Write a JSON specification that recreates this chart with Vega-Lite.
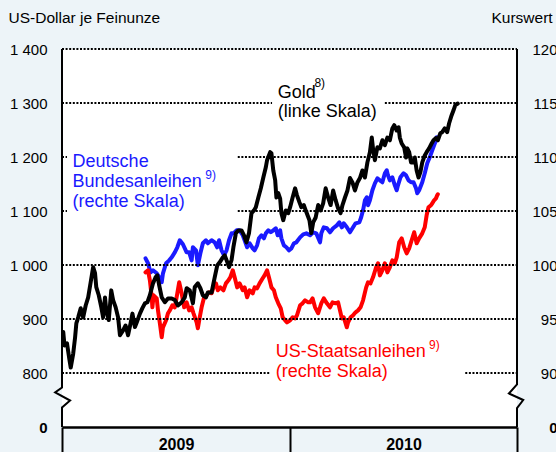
{
  "$schema": "https://vega.github.io/schema/vega-lite/v6.json",
  "width": 455,
  "height": 378,
  "autosize": {"type": "none"},
  "padding": {"left": 62, "top": 49, "right": 39, "bottom": 25},
  "background": "#edf4f8",
  "view": {"fill": "white", "stroke": null},
  "config": {"font": "Liberation Sans"},
  "datasets": {
    "gold": [
      {"date":"2009-01-03","usd":876},{"date":"2009-01-05","usd":851},{"date":"2009-01-09","usd":855},{"date":"2009-01-13","usd":824},
      {"date":"2009-01-15","usd":810},{"date":"2009-01-19","usd":836},{"date":"2009-01-22","usd":866},{"date":"2009-01-24","usd":892},
      {"date":"2009-01-27","usd":903},{"date":"2009-01-31","usd":920},{"date":"2009-02-04","usd":903},{"date":"2009-02-08","usd":925},
      {"date":"2009-02-12","usd":940},{"date":"2009-02-16","usd":968},{"date":"2009-02-20","usd":996},{"date":"2009-02-23","usd":985},
      {"date":"2009-02-25","usd":959},{"date":"2009-03-01","usd":944},{"date":"2009-03-05","usd":922},{"date":"2009-03-08","usd":903},
      {"date":"2009-03-11","usd":940},{"date":"2009-03-13","usd":916},{"date":"2009-03-17","usd":898},{"date":"2009-03-21","usd":953},
      {"date":"2009-03-24","usd":935},{"date":"2009-03-28","usd":922},{"date":"2009-04-01","usd":903},{"date":"2009-04-04","usd":870},
      {"date":"2009-04-09","usd":879},{"date":"2009-04-13","usd":888},{"date":"2009-04-17","usd":870},{"date":"2009-04-21","usd":892},
      {"date":"2009-04-24","usd":910},{"date":"2009-04-28","usd":885},{"date":"2009-05-01","usd":894},{"date":"2009-05-06","usd":910},
      {"date":"2009-05-10","usd":920},{"date":"2009-05-14","usd":929},{"date":"2009-05-18","usd":931},{"date":"2009-05-22","usd":944},
      {"date":"2009-05-27","usd":966},{"date":"2009-05-31","usd":977},{"date":"2009-06-03","usd":981},{"date":"2009-06-06","usd":962},
      {"date":"2009-06-10","usd":940},{"date":"2009-06-15","usd":931},{"date":"2009-06-20","usd":938},{"date":"2009-06-26","usd":938},
      {"date":"2009-07-01","usd":935},{"date":"2009-07-06","usd":925},{"date":"2009-07-12","usd":931},{"date":"2009-07-17","usd":940},
      {"date":"2009-07-20","usd":957},{"date":"2009-07-25","usd":953},{"date":"2009-07-30","usd":929},{"date":"2009-08-02","usd":959},
      {"date":"2009-08-07","usd":966},{"date":"2009-08-11","usd":957},{"date":"2009-08-15","usd":944},{"date":"2009-08-20","usd":940},
      {"date":"2009-08-23","usd":949},{"date":"2009-08-29","usd":949},{"date":"2009-09-01","usd":966},{"date":"2009-09-03","usd":977},
      {"date":"2009-09-07","usd":999},{"date":"2009-09-11","usd":1005},{"date":"2009-09-16","usd":1014},{"date":"2009-09-19","usd":1018},
      {"date":"2009-09-22","usd":1009},{"date":"2009-09-26","usd":996},{"date":"2009-09-30","usd":1009},{"date":"2009-10-03","usd":1033},
      {"date":"2009-10-07","usd":1059},{"date":"2009-10-11","usd":1064},{"date":"2009-10-16","usd":1064},{"date":"2009-10-20","usd":1055},
      {"date":"2009-10-24","usd":1042},{"date":"2009-10-28","usd":1059},{"date":"2009-11-01","usd":1096},{"date":"2009-11-05","usd":1101},
      {"date":"2009-11-08","usd":1107},{"date":"2009-11-12","usd":1125},{"date":"2009-11-16","usd":1142},{"date":"2009-11-20","usd":1162},
      {"date":"2009-11-24","usd":1181},{"date":"2009-11-26","usd":1194},{"date":"2009-12-01","usd":1209},{"date":"2009-12-03","usd":1207},
      {"date":"2009-12-06","usd":1175},{"date":"2009-12-09","usd":1157},{"date":"2009-12-11","usd":1125},{"date":"2009-12-14","usd":1133},
      {"date":"2009-12-17","usd":1123},{"date":"2009-12-19","usd":1096},{"date":"2009-12-22","usd":1083},{"date":"2009-12-26","usd":1101},
      {"date":"2009-12-30","usd":1096},{"date":"2010-01-02","usd":1107},{"date":"2010-01-06","usd":1125},{"date":"2010-01-10","usd":1142},
      {"date":"2010-01-13","usd":1129},{"date":"2010-01-17","usd":1116},{"date":"2010-01-20","usd":1107},{"date":"2010-01-24","usd":1111},
      {"date":"2010-01-28","usd":1098},{"date":"2010-02-02","usd":1083},{"date":"2010-02-05","usd":1059},{"date":"2010-02-08","usd":1079},
      {"date":"2010-02-12","usd":1088},{"date":"2010-02-16","usd":1111},{"date":"2010-02-20","usd":1101},{"date":"2010-02-24","usd":1114},
      {"date":"2010-02-28","usd":1142},{"date":"2010-03-04","usd":1125},{"date":"2010-03-08","usd":1111},{"date":"2010-03-12","usd":1138},
      {"date":"2010-03-16","usd":1120},{"date":"2010-03-20","usd":1105},{"date":"2010-03-24","usd":1096},{"date":"2010-03-27","usd":1111},
      {"date":"2010-03-31","usd":1125},{"date":"2010-04-04","usd":1138},{"date":"2010-04-08","usd":1161},{"date":"2010-04-12","usd":1153},
      {"date":"2010-04-16","usd":1138},{"date":"2010-04-20","usd":1153},{"date":"2010-04-24","usd":1161},{"date":"2010-04-28","usd":1175},
      {"date":"2010-05-02","usd":1162},{"date":"2010-05-06","usd":1190},{"date":"2010-05-10","usd":1209},{"date":"2010-05-13","usd":1236},
      {"date":"2010-05-15","usd":1216},{"date":"2010-05-18","usd":1194},{"date":"2010-05-22","usd":1218},{"date":"2010-05-26","usd":1216},
      {"date":"2010-05-30","usd":1231},{"date":"2010-06-03","usd":1222},{"date":"2010-06-07","usd":1236},{"date":"2010-06-11","usd":1231},
      {"date":"2010-06-15","usd":1253},{"date":"2010-06-18","usd":1259},{"date":"2010-06-22","usd":1249},{"date":"2010-06-25","usd":1255},
      {"date":"2010-06-27","usd":1236},{"date":"2010-06-30","usd":1225},{"date":"2010-07-04","usd":1218},{"date":"2010-07-07","usd":1199},
      {"date":"2010-07-09","usd":1216},{"date":"2010-07-12","usd":1209},{"date":"2010-07-15","usd":1190},{"date":"2010-07-19","usd":1190},
      {"date":"2010-07-21","usd":1199},{"date":"2010-07-24","usd":1175},{"date":"2010-07-27","usd":1162},{"date":"2010-07-30","usd":1172},
      {"date":"2010-08-02","usd":1190},{"date":"2010-08-06","usd":1203},{"date":"2010-08-09","usd":1209},{"date":"2010-08-13","usd":1216},
      {"date":"2010-08-17","usd":1225},{"date":"2010-08-20","usd":1231},{"date":"2010-08-24","usd":1235},{"date":"2010-08-27","usd":1231},
      {"date":"2010-08-31","usd":1244},{"date":"2010-09-03","usd":1246},{"date":"2010-09-07","usd":1253},{"date":"2010-09-11","usd":1246},
      {"date":"2010-09-14","usd":1262},{"date":"2010-09-18","usd":1277},{"date":"2010-09-21","usd":1286},{"date":"2010-09-24","usd":1296},
      {"date":"2010-09-28","usd":1299}
    ],
    "bonds": [
      {"series":"Bund","date":"2009-05-15","kurs":100.62},{"series":"Bund","date":"2009-05-19","kurs":100.16},{"series":"Bund","date":"2009-05-23","kurs":99.32},
      {"series":"Bund","date":"2009-05-27","kurs":99.51},{"series":"Bund","date":"2009-06-02","kurs":99.23},{"series":"Bund","date":"2009-06-06","kurs":98.86},
      {"series":"Bund","date":"2009-06-10","kurs":98.4},{"series":"Bund","date":"2009-06-12","kurs":99.23},{"series":"Bund","date":"2009-06-17","kurs":100.16},
      {"series":"Bund","date":"2009-06-22","kurs":100.43},{"series":"Bund","date":"2009-06-26","kurs":100.71},{"series":"Bund","date":"2009-07-01","kurs":101.17},
      {"series":"Bund","date":"2009-07-05","kurs":101.64},{"series":"Bund","date":"2009-07-09","kurs":102.29},{"series":"Bund","date":"2009-07-14","kurs":101.92},
      {"series":"Bund","date":"2009-07-20","kurs":101.17},{"series":"Bund","date":"2009-07-24","kurs":101.17},{"series":"Bund","date":"2009-07-28","kurs":100.43},
      {"series":"Bund","date":"2009-07-30","kurs":101.64},{"series":"Bund","date":"2009-08-04","kurs":101.36},{"series":"Bund","date":"2009-08-07","kurs":99.97},
      {"series":"Bund","date":"2009-08-11","kurs":101.08},{"series":"Bund","date":"2009-08-15","kurs":102.01},{"series":"Bund","date":"2009-08-20","kurs":102.29},
      {"series":"Bund","date":"2009-08-23","kurs":102.01},{"series":"Bund","date":"2009-08-29","kurs":102.29},{"series":"Bund","date":"2009-09-03","kurs":102.1},
      {"series":"Bund","date":"2009-09-07","kurs":101.64},{"series":"Bund","date":"2009-09-10","kurs":102.29},{"series":"Bund","date":"2009-09-14","kurs":101.36},
      {"series":"Bund","date":"2009-09-18","kurs":100.9},{"series":"Bund","date":"2009-09-22","kurs":101.36},{"series":"Bund","date":"2009-09-26","kurs":102.29},
      {"series":"Bund","date":"2009-09-30","kurs":102.93},{"series":"Bund","date":"2009-10-03","kurs":102.93},{"series":"Bund","date":"2009-10-08","kurs":103.21},
      {"series":"Bund","date":"2009-10-13","kurs":103.21},{"series":"Bund","date":"2009-10-18","kurs":102.75},{"series":"Bund","date":"2009-10-21","kurs":102.29},
      {"series":"Bund","date":"2009-10-25","kurs":101.64},{"series":"Bund","date":"2009-10-29","kurs":102.01},{"series":"Bund","date":"2009-11-03","kurs":101.54},
      {"series":"Bund","date":"2009-11-06","kurs":101.36},{"series":"Bund","date":"2009-11-10","kurs":101.82},{"series":"Bund","date":"2009-11-13","kurs":102.47},
      {"series":"Bund","date":"2009-11-17","kurs":102.75},{"series":"Bund","date":"2009-11-21","kurs":102.47},{"series":"Bund","date":"2009-11-24","kurs":102.93},
      {"series":"Bund","date":"2009-11-28","kurs":103.21},{"series":"Bund","date":"2009-12-02","kurs":103.03},{"series":"Bund","date":"2009-12-06","kurs":103.21},
      {"series":"Bund","date":"2009-12-10","kurs":103.4},{"series":"Bund","date":"2009-12-13","kurs":102.75},{"series":"Bund","date":"2009-12-17","kurs":103.21},
      {"series":"Bund","date":"2009-12-19","kurs":102.47},{"series":"Bund","date":"2009-12-23","kurs":101.82},{"series":"Bund","date":"2009-12-27","kurs":101.64},
      {"series":"Bund","date":"2009-12-31","kurs":101.36},{"series":"Bund","date":"2010-01-04","kurs":101.54},{"series":"Bund","date":"2010-01-08","kurs":102.01},
      {"series":"Bund","date":"2010-01-12","kurs":102.1},{"series":"Bund","date":"2010-01-18","kurs":102.56},{"series":"Bund","date":"2010-01-23","kurs":102.84},
      {"series":"Bund","date":"2010-01-28","kurs":102.93},{"series":"Bund","date":"2010-02-03","kurs":102.75},{"series":"Bund","date":"2010-02-08","kurs":103.03},
      {"series":"Bund","date":"2010-02-13","kurs":102.93},{"series":"Bund","date":"2010-02-19","kurs":102.1},{"series":"Bund","date":"2010-02-21","kurs":102.93},
      {"series":"Bund","date":"2010-02-25","kurs":103.49},{"series":"Bund","date":"2010-03-02","kurs":103.4},{"series":"Bund","date":"2010-03-07","kurs":103.03},
      {"series":"Bund","date":"2010-03-12","kurs":103.4},{"series":"Bund","date":"2010-03-18","kurs":103.67},{"series":"Bund","date":"2010-03-22","kurs":103.95},
      {"series":"Bund","date":"2010-03-26","kurs":103.49},{"series":"Bund","date":"2010-03-29","kurs":103.86},{"series":"Bund","date":"2010-04-03","kurs":103.49},
      {"series":"Bund","date":"2010-04-08","kurs":103.03},{"series":"Bund","date":"2010-04-13","kurs":103.49},{"series":"Bund","date":"2010-04-17","kurs":103.86},
      {"series":"Bund","date":"2010-04-23","kurs":103.95},{"series":"Bund","date":"2010-04-26","kurs":104.42},{"series":"Bund","date":"2010-04-29","kurs":105.06},
      {"series":"Bund","date":"2010-05-02","kurs":105.99},{"series":"Bund","date":"2010-05-05","kurs":106.27},{"series":"Bund","date":"2010-05-07","kurs":105.53},
      {"series":"Bund","date":"2010-05-10","kurs":105.99},{"series":"Bund","date":"2010-05-14","kurs":106.92},{"series":"Bund","date":"2010-05-18","kurs":107.56},
      {"series":"Bund","date":"2010-05-22","kurs":108.03},{"series":"Bund","date":"2010-05-26","kurs":107.84},{"series":"Bund","date":"2010-05-30","kurs":107.66},
      {"series":"Bund","date":"2010-06-03","kurs":108.49},{"series":"Bund","date":"2010-06-06","kurs":108.77},{"series":"Bund","date":"2010-06-08","kurs":108.3},
      {"series":"Bund","date":"2010-06-11","kurs":107.84},{"series":"Bund","date":"2010-06-15","kurs":108.12},{"series":"Bund","date":"2010-06-19","kurs":107.38},
      {"series":"Bund","date":"2010-06-22","kurs":106.92},{"series":"Bund","date":"2010-06-24","kurs":107.38},{"series":"Bund","date":"2010-06-28","kurs":108.12},
      {"series":"Bund","date":"2010-07-03","kurs":108.49},{"series":"Bund","date":"2010-07-07","kurs":108.3},{"series":"Bund","date":"2010-07-11","kurs":107.84},
      {"series":"Bund","date":"2010-07-15","kurs":107.66},{"series":"Bund","date":"2010-07-19","kurs":107.66},{"series":"Bund","date":"2010-07-23","kurs":107.1},
      {"series":"Bund","date":"2010-07-25","kurs":106.64},{"series":"Bund","date":"2010-07-28","kurs":106.92},{"series":"Bund","date":"2010-08-02","kurs":107.66},
      {"series":"Bund","date":"2010-08-06","kurs":108.49},{"series":"Bund","date":"2010-08-10","kurs":109.42},{"series":"Bund","date":"2010-08-14","kurs":109.97},
      {"series":"Bund","date":"2010-08-18","kurs":110.62},{"series":"Bund","date":"2010-08-21","kurs":111.08},{"series":"Bund","date":"2010-08-24","kurs":111.55},
      {"series":"Bund","date":"2010-08-25","kurs":111.83},
      {"series":"UST","date":"2009-05-15","kurs":99.32},{"series":"UST","date":"2009-05-19","kurs":99.51},{"series":"UST","date":"2009-05-22","kurs":98.58},
      {"series":"UST","date":"2009-05-25","kurs":97.01},{"series":"UST","date":"2009-05-26","kurs":96.08},{"series":"UST","date":"2009-05-28","kurs":97.19},
      {"series":"UST","date":"2009-06-02","kurs":96.91},{"series":"UST","date":"2009-06-04","kurs":95.8},{"series":"UST","date":"2009-06-07","kurs":94.6},
      {"series":"UST","date":"2009-06-10","kurs":93.3},{"series":"UST","date":"2009-06-12","kurs":94.23},{"series":"UST","date":"2009-06-17","kurs":94.88},
      {"series":"UST","date":"2009-06-20","kurs":95.53},{"series":"UST","date":"2009-06-23","kurs":95.8},{"series":"UST","date":"2009-06-27","kurs":96.27},
      {"series":"UST","date":"2009-07-01","kurs":96.08},{"series":"UST","date":"2009-07-05","kurs":97.38},{"series":"UST","date":"2009-07-08","kurs":98.4},
      {"series":"UST","date":"2009-07-12","kurs":97.38},{"series":"UST","date":"2009-07-16","kurs":96.08},{"series":"UST","date":"2009-07-20","kurs":96.54},
      {"series":"UST","date":"2009-07-24","kurs":95.8},{"series":"UST","date":"2009-07-28","kurs":96.08},{"series":"UST","date":"2009-07-31","kurs":95.53},
      {"series":"UST","date":"2009-08-05","kurs":94.69},{"series":"UST","date":"2009-08-07","kurs":94.14},{"series":"UST","date":"2009-08-10","kurs":95.16},
      {"series":"UST","date":"2009-08-13","kurs":96.08},{"series":"UST","date":"2009-08-17","kurs":97.01},{"series":"UST","date":"2009-08-21","kurs":97.19},
      {"series":"UST","date":"2009-08-25","kurs":97.47},{"series":"UST","date":"2009-08-29","kurs":97.38},{"series":"UST","date":"2009-09-01","kurs":97.93},
      {"series":"UST","date":"2009-09-05","kurs":98.3},{"series":"UST","date":"2009-09-08","kurs":97.66},{"series":"UST","date":"2009-09-12","kurs":97.93},
      {"series":"UST","date":"2009-09-17","kurs":97.66},{"series":"UST","date":"2009-09-21","kurs":98.3},{"series":"UST","date":"2009-09-25","kurs":98.58},
      {"series":"UST","date":"2009-09-28","kurs":98.86},{"series":"UST","date":"2009-10-02","kurs":99.51},{"series":"UST","date":"2009-10-05","kurs":98.86},
      {"series":"UST","date":"2009-10-09","kurs":97.93},{"series":"UST","date":"2009-10-13","kurs":98.3},{"series":"UST","date":"2009-10-18","kurs":97.66},
      {"series":"UST","date":"2009-10-21","kurs":97.93},{"series":"UST","date":"2009-10-25","kurs":97.01},{"series":"UST","date":"2009-10-29","kurs":97.66},
      {"series":"UST","date":"2009-11-03","kurs":97.38},{"series":"UST","date":"2009-11-06","kurs":97.93},{"series":"UST","date":"2009-11-10","kurs":97.84},
      {"series":"UST","date":"2009-11-14","kurs":98.3},{"series":"UST","date":"2009-11-19","kurs":98.77},{"series":"UST","date":"2009-11-22","kurs":99.04},
      {"series":"UST","date":"2009-11-26","kurs":99.51},{"series":"UST","date":"2009-11-29","kurs":98.86},{"series":"UST","date":"2009-12-03","kurs":97.93},
      {"series":"UST","date":"2009-12-07","kurs":97.66},{"series":"UST","date":"2009-12-10","kurs":97.01},{"series":"UST","date":"2009-12-14","kurs":96.45},
      {"series":"UST","date":"2009-12-18","kurs":95.99},{"series":"UST","date":"2009-12-21","kurs":95.16},{"series":"UST","date":"2009-12-25","kurs":94.88},
      {"series":"UST","date":"2009-12-28","kurs":94.69},{"series":"UST","date":"2010-01-02","kurs":94.88},{"series":"UST","date":"2010-01-06","kurs":95.16},
      {"series":"UST","date":"2010-01-10","kurs":95.06},{"series":"UST","date":"2010-01-13","kurs":95.34},{"series":"UST","date":"2010-01-18","kurs":96.27},
      {"series":"UST","date":"2010-01-22","kurs":96.45},{"series":"UST","date":"2010-01-26","kurs":96.73},{"series":"UST","date":"2010-01-31","kurs":96.54},
      {"series":"UST","date":"2010-02-03","kurs":96.54},{"series":"UST","date":"2010-02-07","kurs":96.91},{"series":"UST","date":"2010-02-11","kurs":96.08},
      {"series":"UST","date":"2010-02-16","kurs":95.53},{"series":"UST","date":"2010-02-21","kurs":96.45},{"series":"UST","date":"2010-02-25","kurs":96.91},
      {"series":"UST","date":"2010-03-02","kurs":96.45},{"series":"UST","date":"2010-03-07","kurs":96.08},{"series":"UST","date":"2010-03-11","kurs":96.54},
      {"series":"UST","date":"2010-03-16","kurs":96.45},{"series":"UST","date":"2010-03-20","kurs":96.54},{"series":"UST","date":"2010-03-23","kurs":95.8},
      {"series":"UST","date":"2010-03-26","kurs":95.06},{"series":"UST","date":"2010-03-29","kurs":95.16},{"series":"UST","date":"2010-04-03","kurs":94.23},
      {"series":"UST","date":"2010-04-05","kurs":94.69},{"series":"UST","date":"2010-04-09","kurs":95.16},{"series":"UST","date":"2010-04-13","kurs":95.34},
      {"series":"UST","date":"2010-04-17","kurs":95.62},{"series":"UST","date":"2010-04-21","kurs":95.8},{"series":"UST","date":"2010-04-25","kurs":96.08},
      {"series":"UST","date":"2010-04-29","kurs":96.73},{"series":"UST","date":"2010-05-04","kurs":97.93},{"series":"UST","date":"2010-05-07","kurs":98.4},
      {"series":"UST","date":"2010-05-11","kurs":98.3},{"series":"UST","date":"2010-05-15","kurs":98.86},{"series":"UST","date":"2010-05-20","kurs":99.79},
      {"series":"UST","date":"2010-05-23","kurs":100.16},{"series":"UST","date":"2010-05-26","kurs":99.04},{"series":"UST","date":"2010-05-30","kurs":99.51},
      {"series":"UST","date":"2010-06-03","kurs":100.16},{"series":"UST","date":"2010-06-07","kurs":99.32},{"series":"UST","date":"2010-06-11","kurs":99.79},
      {"series":"UST","date":"2010-06-15","kurs":100.43},{"series":"UST","date":"2010-06-19","kurs":100.16},{"series":"UST","date":"2010-06-22","kurs":100.71},
      {"series":"UST","date":"2010-06-26","kurs":102.1},{"series":"UST","date":"2010-06-30","kurs":102.47},{"series":"UST","date":"2010-07-04","kurs":101.64},
      {"series":"UST","date":"2010-07-08","kurs":101.08},{"series":"UST","date":"2010-07-12","kurs":101.54},{"series":"UST","date":"2010-07-16","kurs":102.29},
      {"series":"UST","date":"2010-07-20","kurs":103.03},{"series":"UST","date":"2010-07-24","kurs":102.01},{"series":"UST","date":"2010-07-28","kurs":102.47},
      {"series":"UST","date":"2010-08-02","kurs":102.93},{"series":"UST","date":"2010-08-06","kurs":103.49},{"series":"UST","date":"2010-08-09","kurs":104.6},
      {"series":"UST","date":"2010-08-12","kurs":105.34},{"series":"UST","date":"2010-08-16","kurs":105.53},{"series":"UST","date":"2010-08-18","kurs":105.71},
      {"series":"UST","date":"2010-08-21","kurs":105.99},{"series":"UST","date":"2010-08-24","kurs":106.17},{"series":"UST","date":"2010-08-26","kurs":106.45},
      {"series":"UST","date":"2010-08-27","kurs":106.55}
    ],
    "grid": [
      {"g":1400,"a":"2009-01-01","b":"2011-01-01"},
      {"g":1300,"a":"2009-01-01","b":"2009-12-04"},{"g":1300,"a":"2010-06-03","b":"2011-01-01"},
      {"g":1200,"a":"2009-01-01","b":"2009-01-09"},{"g":1200,"a":"2009-10-10","b":"2011-01-01"},
      {"g":1100,"a":"2009-01-01","b":"2009-01-09"},{"g":1100,"a":"2009-10-10","b":"2011-01-01"},
      {"g":1000,"a":"2009-01-01","b":"2011-01-01"},
      {"g":900,"a":"2009-01-01","b":"2011-01-01"},
      {"g":800,"a":"2009-01-01","b":"2009-12-02"},{"g":800,"a":"2010-10-10","b":"2011-01-01"}
    ],
    "frame": [
      {"part":"L","i":1,"date":"2009-01-01","usd":1400},{"part":"L","i":2,"date":"2009-01-01","usd":773},
      {"part":"L","i":3,"date":"2008-12-21","usd":764},{"part":"L","i":4,"date":"2009-01-14","usd":749},
      {"part":"L","i":5,"date":"2009-01-01","usd":736},{"part":"L","i":6,"date":"2009-01-01","usd":700},
      {"part":"R","i":1,"date":"2011-01-01","usd":1400},{"part":"R","i":2,"date":"2011-01-01","usd":779},
      {"part":"R","i":3,"date":"2010-12-19","usd":762},{"part":"R","i":4,"date":"2011-01-11","usd":750},
      {"part":"R","i":5,"date":"2011-01-01","usd":735},{"part":"R","i":6,"date":"2011-01-01","usd":700}
    ],
    "labels": [
      {"series":"Gold","text":"Gold","date":"2009-12-13","usd":1310},
      {"series":"Gold","text":"(linke Skala)","date":"2009-12-13","usd":1275},
      {"series":"Bund","text":"Deutsche","date":"2009-01-18","usd":1181},
      {"series":"Bund","text":"Bundesanleihen","date":"2009-01-18","usd":1144},
      {"series":"Bund","text":"(rechte Skala)","date":"2009-01-18","usd":1107},
      {"series":"UST","text":"US-Staatsanleihen","date":"2009-12-10","usd":829},
      {"series":"UST","text":"(rechte Skala)","date":"2009-12-10","usd":792}
    ],
    "notes": [
      {"series":"Gold","text":"8)","date":"2010-02-10","usd":1329},
      {"series":"Bund","text":"9)","date":"2009-08-19","usd":1160},
      {"series":"UST","text":"9)","date":"2010-08-13","usd":844}
    ]
  },
  "layer": [
    {
      "data": {"name": "bonds"},
      "mark": {"type": "line", "strokeWidth": 4, "strokeJoin": "round", "strokeCap": "round"},
      "encoding": {
        "x": {"field": "date", "type": "temporal", "scale": {"type": "utc", "domain": [{"year":2009,"month":1,"date":1,"utc":true},{"year":2011,"month":1,"date":1,"utc":true}]}},
        "y": {"field": "kurs", "type": "quantitative", "scale": {"domain": [85, 120], "nice": false, "zero": false},
          "axis": {"orient": "right", "values": [85,90,95,100,105,110,115,120],
            "labelExpr": "datum.value == 85 ? '0' : datum.label",
            "labelFontWeight": {"condition": {"test": "datum.value == 85", "value": "bold"}, "value": "normal"},
            "labelAlign": "right", "labelPadding": 40, "labelFontSize": 15, "labelColor": "black",
            "domain": false, "ticks": false, "tickSize": 0, "grid": false,
            "title": "Kurswert", "titleAngle": 0, "titleAlign": "left", "titleBaseline": "alphabetic",
            "titleX": -26, "titleY": -27, "titleFontSize": 15.5, "titleFontWeight": "normal", "titleColor": "black"}},
        "color": {"field": "series", "type": "nominal", "scale": {"domain": ["Gold","Bund","UST"], "range": ["#000000","#1a1aff","#ff0000"]}, "legend": null},
        "order": {"field": "date", "type": "temporal"}
      }
    },
    {
      "layer": [
        {
          "data": {"name": "grid"},
          "mark": {"type": "rule", "stroke": "black", "strokeWidth": 1.8, "strokeDash": [2, 1.6]},
          "encoding": {
            "x": {"field": "a", "type": "temporal"},
            "x2": {"field": "b"},
            "y": {"field": "g", "type": "quantitative"}
          }
        },
        {
          "data": {"name": "gold"},
          "mark": {"type": "line", "strokeWidth": 4, "strokeJoin": "round", "strokeCap": "round"},
          "encoding": {
            "x": {"field": "date", "type": "temporal",
              "axis": {"orient": "bottom", "values": [{"year":2009,"month":1,"date":1,"utc":true},{"year":2010,"month":1,"date":1,"utc":true},{"year":2011,"month":1,"date":1,"utc":true}],
                "labelExpr": "utcyear(datum.value) < 2011 ? utcFormat(datum.value, '%Y') : ''",
                "labelOffset": 114, "labelAlign": "center", "labelFlush": false, "labelOverlap": false, "labelBound": false,
                "labelFontSize": 16, "labelFontWeight": "bold", "labelColor": "black", "labelBaseline": "top", "labelPadding": -16,
                "ticks": true, "tickSize": 25, "tickColor": "black", "tickWidth": 2, "domain": true, "domainColor": "black", "domainWidth": 2.5, "grid": false, "title": null}},
            "y": {"field": "usd", "type": "quantitative", "scale": {"domain": [700, 1400], "nice": false, "zero": false},
              "axis": {"orient": "left", "values": [700,800,900,1000,1100,1200,1300,1400],
                "labelExpr": "datum.value == 700 ? '0' : replace(format(datum.value, ','), ',', ' ')",
                "labelFontWeight": {"condition": {"test": "datum.value == 700", "value": "bold"}, "value": "normal"},
                "labelPadding": 15, "labelFontSize": 15, "labelColor": "black",
                "domain": false, "ticks": false, "tickSize": 0, "grid": false,
                "title": "US-Dollar je Feinunze", "titleAngle": 0, "titleAlign": "left", "titleBaseline": "alphabetic",
                "titleX": -54, "titleY": -27, "titleFontSize": 15.5, "titleFontWeight": "normal", "titleColor": "black"}},
            "color": {"datum": "Gold", "type": "nominal", "legend": null}
          }
        },
        {
          "data": {"name": "frame"},
          "mark": {"type": "line", "stroke": "black", "strokeWidth": 2, "clip": false},
          "encoding": {
            "x": {"field": "date", "type": "temporal"},
            "y": {"field": "usd", "type": "quantitative"},
            "detail": {"field": "part"},
            "order": {"field": "i", "type": "quantitative"}
          }
        },
        {
          "data": {"name": "labels"},
          "mark": {"type": "text", "align": "left", "baseline": "alphabetic", "fontSize": 18},
          "encoding": {
            "x": {"field": "date", "type": "temporal"},
            "y": {"field": "usd", "type": "quantitative"},
            "text": {"field": "text"},
            "color": {"field": "series", "type": "nominal", "legend": null}
          }
        },
        {
          "data": {"name": "notes"},
          "mark": {"type": "text", "align": "left", "baseline": "alphabetic", "fontSize": 12},
          "encoding": {
            "x": {"field": "date", "type": "temporal"},
            "y": {"field": "usd", "type": "quantitative"},
            "text": {"field": "text"},
            "color": {"field": "series", "type": "nominal", "legend": null}
          }
        }
      ]
    }
  ],
  "resolve": {"scale": {"y": "independent"}, "axis": {"y": "independent"}}
}
